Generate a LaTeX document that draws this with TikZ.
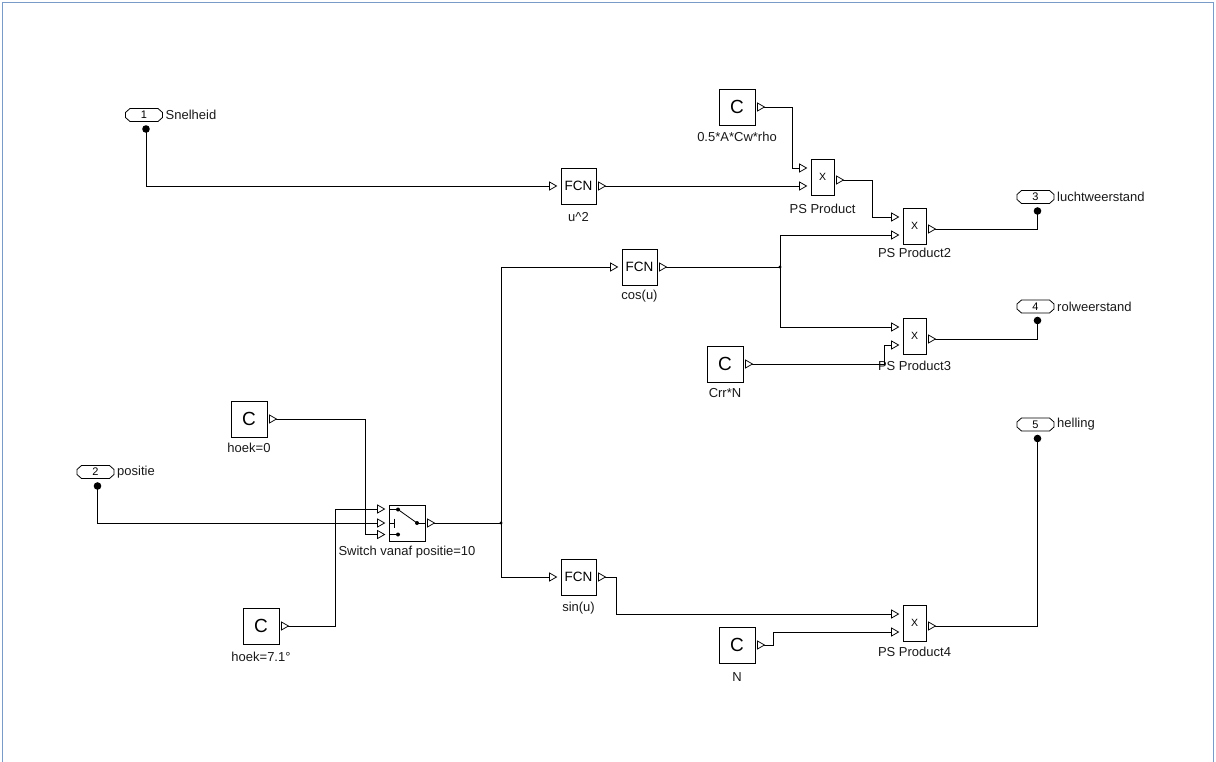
\documentclass[tikz,border=0pt]{standalone}
\usepackage{fontspec}
\setmainfont{Liberation Sans}
\usetikzlibrary{calc}
\newcommand\fsz[1]{\fontsize{#1}{#1}\selectfont}
\newcommand\portout[5]{% name, cx, cy, num, label
  \begin{scope}[shift={(#2,#3)}]
    \draw[line width=0.8pt] (-18.5,-2.5)--(-14,-6.5)--(14,-6.5)--(18.5,-2.5)--(18.5,2.5)--(14,6.5)--(-14,6.5)--(-18.5,2.5)--cycle;
    \node[inner sep=0pt,font=\fsz{11}] (#1) at (0,0) {#4};
    \node[lbl,anchor=west] (#1l) at (21.5,0) {#5};
    \coordinate (#1d) at (2,14);
    \fill (#1d) circle (3.8pt);
  \end{scope}}
\begin{document}
\begin{tikzpicture}[x=1pt,y=-1pt,
  box/.style={draw, line width=0.9pt, inner sep=0pt, minimum width=35pt, minimum height=36pt, font=\fsz{13.5}},
  cbox/.style={draw, line width=0.9pt, inner sep=0pt, minimum width=36pt, minimum height=36pt, font=\fsz{19}},
  pbox/.style={draw, line width=0.9pt, inner sep=0pt, minimum width=23pt, minimum height=36pt, font=\fsz{10.5}},
  swbox/.style={draw, line width=0.9pt, inner sep=0pt, minimum width=36pt, minimum height=36pt},
  lbl/.style={inner sep=0pt, font=\fsz{13}, text=black!90},
  wire/.style={line width=0.95pt},
  tri/.pic={\draw[line width=0.75pt, fill=white] (0,-4)--(7,0)--(0,4)--cycle;}
]
\useasboundingbox (0,0) rectangle (1216,762);
% frame
\draw[line width=1pt, color={rgb,255:red,120;green,155;blue,200}] (2.5,762)--(2.5,2.5)--(1213.5,2.5)--(1213.5,762);

% ---------- output / input ports ----------
\portout{p1}{144}{115}{1}{Snelheid}
\portout{p2}{95.5}{472}{2}{positie}
\portout{p3}{1035.5}{197}{3}{luchtweerstand}
\portout{p4}{1035.5}{306.5}{4}{rolweerstand}
\portout{p5}{1035.5}{424.5}{5}{helling}

% ---------- FCN blocks ----------
\node[box] (u2) at (578.5,186) {FCN};
\node[lbl] (u2l) at (578.5,217) {u\textasciicircum 2};
\node[box] (cos) at (639.5,267) {FCN};
\node[lbl] (cosl) at (639.5,296) {cos(u)};
\node[box] (sin) at (578.5,577) {FCN};
\node[lbl] (sinl) at (578.5,608) {sin(u)};

% ---------- constants ----------
\node[cbox] (c1) at (737,107) {C};
\node[lbl] (c1l) at (737,137) {0.5*A*Cw*rho};
\node[cbox] (crr) at (725,364) {C};
\node[lbl] (crrl) at (725,393) {Crr*N};
\node[cbox] (h0) at (249,419) {C};
\node[lbl] (h0l) at (249,448) {hoek=0};
\node[cbox] (h7) at (261,626) {C};
\node[lbl] (h7l) at (261,657) {hoek=7.1°};
\node[cbox] (cn) at (737,645) {C};
\node[lbl] (cnl) at (737,677) {N};

% ---------- products ----------
\node[pbox] (pr1) at (822.5,177) {X};
\node[lbl] (pr1l) at (822.5,209) {PS Product};
\node[pbox] (pr2) at (914.5,226) {X};
\node[lbl] (pr2l) at (914.5,253) {PS Product2};
\node[pbox] (pr3) at (914.5,336) {X};
\node[lbl] (pr3l) at (914.5,366) {PS Product3};
\node[pbox] (pr4) at (914.5,623) {X};
\node[lbl] (pr4l) at (914.5,652) {PS Product4};

% ---------- switch ----------
\node[swbox] (sw) at (407,523) {};
\node[lbl] (swl) at (407,552) {Switch vanaf positie=10};
\draw[line width=0.8pt] (389,509)--(397,509);
\fill (398,509.5) circle (2pt);
\draw[line width=0.8pt] (398,509.5)--(417,523);
\fill (417,523) circle (2pt);
\draw[line width=0.8pt] (417,523)--(425,523);
\draw[line width=0.8pt] (389,523)--(394,523) (394,518.5)--(394,527.5);
\draw[line width=0.8pt] (389,534.5)--(397,534.5);
\fill (398,534.5) circle (2pt);

% ---------- port coordinates ----------
\coordinate (u2i) at ([xshift=-11pt]u2.west);
\coordinate (u2o) at ([xshift=2pt]u2.east);
\coordinate (cosi) at ([xshift=-11pt]cos.west);
\coordinate (coso) at ([xshift=2pt]cos.east);
\coordinate (sini) at ([xshift=-11pt]sin.west);
\coordinate (sino) at ([xshift=2pt]sin.east);
\coordinate (c1o) at ([xshift=2pt]c1.east);
\coordinate (crro) at ([xshift=2pt]crr.east);
\coordinate (h0o) at ([xshift=2pt]h0.east);
\coordinate (h7o) at ([xshift=2pt]h7.east);
\coordinate (cno) at ([xshift=2pt]cn.east);
\foreach \p in {pr1,pr2,pr3,pr4}{
  \coordinate (\p i1) at ([xshift=-11pt,yshift=9pt]\p.west);
  \coordinate (\p i2) at ([xshift=-11pt,yshift=-9pt]\p.west);
  \coordinate (\p o) at ([xshift=2pt,yshift=-3pt]\p.east);
}
\coordinate (swi1) at ([xshift=-11pt,yshift=14pt]sw.west);
\coordinate (swi2) at ([xshift=-11pt]sw.west);
\coordinate (swi3) at ([xshift=-11pt,yshift=-11.5pt]sw.west);
\coordinate (swo) at ([xshift=2pt]sw.east);
\coordinate (J1) at (780,267);
\coordinate (J2) at (501,523);

% ---------- wires ----------
\draw[wire] (p1d) |- (u2i);
\draw[wire] ([xshift=7pt]u2o) -- (pr1i2);
\draw[wire] ([xshift=7pt]c1o) -- ++(28,0) |- (pr1i1);
\draw[wire] ([xshift=7pt]pr1o) -- ++(29,0) |- (pr2i1);
\draw[wire] ([xshift=7pt]coso) -- (J1);
\draw[wire] (J1) |- (pr2i2);
\draw[wire] (J1) |- (pr3i1);
\draw[wire] ([xshift=7pt]pr2o) -| (p3d);
\draw[wire] ([xshift=7pt]crro) -- ++(132,0) |- (pr3i2);
\draw[wire] ([xshift=7pt]pr3o) -| (p4d);
\draw[wire] (p2d) |- (swi2);
\draw[wire] ([xshift=7pt]h0o) -- ++(89,0) |- (swi3);
\draw[wire] ([xshift=7pt]h7o) -- ++(47,0) |- (swi1);
\draw[wire] ([xshift=7pt]swo) -- (J2);
\draw[wire] (J2) |- (cosi);
\draw[wire] (J2) |- (sini);
\draw[wire] ([xshift=7pt]sino) -- ++(11,0) |- (pr4i1);
\draw[wire] ([xshift=7pt]cno) -- ++(9,0) |- (pr4i2);
\draw[wire] ([xshift=7pt]pr4o) -| (p5d);
\fill (J1) circle (1.6pt);
\fill (J2) circle (1.6pt);

% ---------- port arrowheads ----------
\foreach \c in {u2i,u2o,cosi,coso,sini,sino,c1o,crro,h0o,h7o,cno,
  pr1i1,pr1i2,pr1o,pr2i1,pr2i2,pr2o,pr3i1,pr3i2,pr3o,pr4i1,pr4i2,pr4o,
  swi1,swi2,swi3,swo}{
  \pic at (\c) {tri};
}
\end{tikzpicture}
\end{document}
